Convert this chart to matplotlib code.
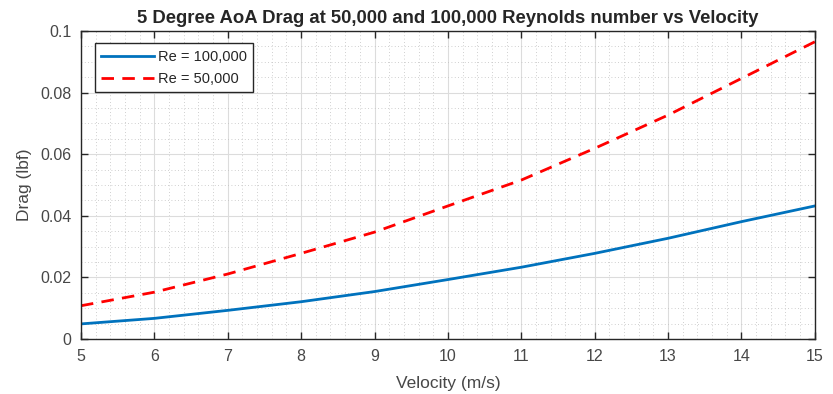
import numpy as np
import matplotlib
matplotlib.use('Agg')
import matplotlib.pyplot as plt
from matplotlib.ticker import MultipleLocator

plt.rcParams['font.family'] = ['Liberation Sans', 'DejaVu Sans']

# velocity (m/s) and drag (lbf)
velocity = [5, 6, 7, 8, 9, 10, 11, 12, 13, 14, 15]
drag_re100k = [0.0049, 0.0067, 0.0093, 0.0121, 0.0154, 0.0193, 0.0233, 0.0278, 0.0327, 0.0381, 0.0432]
drag_re50k = [0.0108, 0.0152, 0.0211, 0.0278, 0.0347, 0.0432, 0.0516, 0.0619, 0.0727, 0.0846, 0.0965]

txt = '#262626'
lbl = '#474747'

fig = plt.figure(figsize=(8.33, 3.94), dpi=100)
ax = fig.add_axes([0.0972, 0.1396, 0.881, 0.7817])

ax.plot(velocity, drag_re100k, color='#0072BD', lw=2, label='Re = 100,000')
ax.plot(velocity, drag_re50k, color='#FF0000', lw=2, ls=(0, (4.5, 3)), label='Re = 50,000')

ax.set_xlim(5, 15)
ax.set_ylim(0, 0.1)
ax.set_xticks(range(5, 16))
ax.set_yticks([0, 0.02, 0.04, 0.06, 0.08, 0.1])
ax.set_yticklabels(['0', '0.02', '0.04', '0.06', '0.08', '0.1'])
ax.xaxis.set_minor_locator(MultipleLocator(0.2))
ax.yaxis.set_minor_locator(MultipleLocator(0.005))

ax.grid(which='major', color='#dcdcdc', lw=0.8)
ax.grid(which='minor', color='#c0c0c0', lw=0.6, ls=(0, (1, 3)))
ax.set_axisbelow(True)

ax.tick_params(which='major', direction='in', top=True, right=True, length=5,
               width=1, colors=txt, labelsize=11.5, labelcolor=lbl, pad=7)
ax.tick_params(which='minor', length=0)
for s in ax.spines.values():
    s.set_color(txt)
    s.set_linewidth(1)

ax.set_xlabel('Velocity (m/s)', fontsize=12.5, color=lbl, labelpad=9)
ax.set_ylabel('Drag (lbf)', fontsize=12.5, color=lbl, labelpad=6)
ax.set_title('5 Degree AoA Drag at 50,000 and 100,000 Reynolds number vs Velocity',
             fontsize=13.3, fontweight='bold', color=txt, pad=6)

leg = ax.legend(loc='upper left', bbox_to_anchor=(0.019, 0.96), fontsize=10.5,
                fancybox=False, framealpha=1, edgecolor=txt, handlelength=3.6,
                handletextpad=0.25, borderpad=0.45, labelspacing=0.55, borderaxespad=0.0)
leg.get_frame().set_linewidth(1)
for t in leg.get_texts():
    t.set_color(txt)

fig.savefig('out.png', dpi=100)
